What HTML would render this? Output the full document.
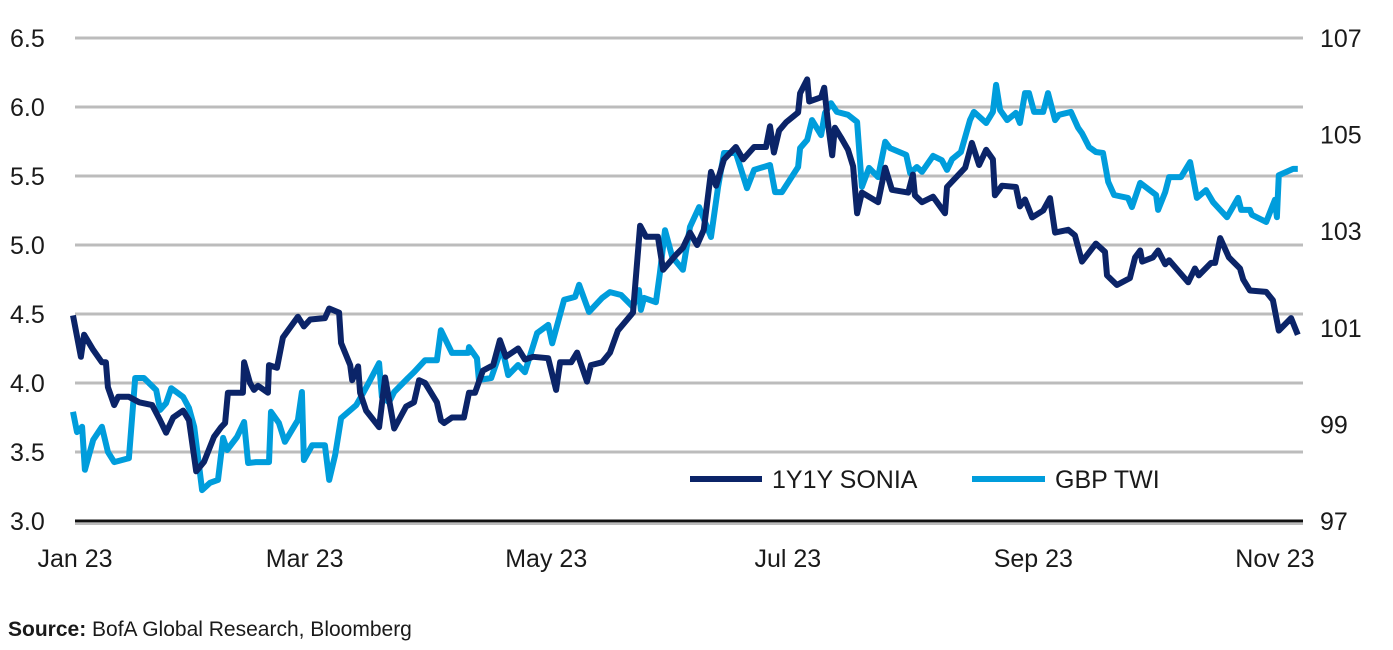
<!DOCTYPE html>
<html><head><meta charset="utf-8"><style>
body{margin:0;background:#fff;width:1393px;height:645px;overflow:hidden}
svg text{font-family:"Liberation Sans Narrow","Liberation Sans",sans-serif;fill:#1a1a1a}
</style></head><body>
<svg id="chart" width="1393" height="645" xmlns="http://www.w3.org/2000/svg">
<g id="grid"></g>
<g id="lticks"></g>
<g id="rticks"></g>
<g id="xticks"></g>
<g id="series"></g>
<g>
<line x1="690" y1="479" x2="762" y2="479" stroke="#0b2468" stroke-width="6"/>
<text x="772" y="488" font-size="25">1Y1Y SONIA</text>
<line x1="972" y1="479" x2="1045" y2="479" stroke="#009ddc" stroke-width="6"/>
<text x="1055" y="488" font-size="25">GBP TWI</text>
</g>
<text x="8" y="636" font-size="21"><tspan font-weight="bold">Source:</tspan>  BofA Global Research, Bloomberg</text>
</svg>
<script>
const leftTicks=[3.0,3.5,4.0,4.5,5.0,5.5,6.0,6.5];
const leftTickLabels=["3.0","3.5","4.0","4.5","5.0","5.5","6.0","6.5"];
const rightTicks=[97,99,101,103,105,107];
const xTickDays=[1,59,120,181,243,304];
const xTickLabels=["Jan 23","Mar 23","May 23","Jul 23","Sep 23","Nov 23"];
const soniaDays=[0.5,2.5,3.3,5.6,7.8,8.8,9.3,10.9,11.9,14.6,17.2,20.5,22.5,24,25.8,28.3,29.8,31.6,33.6,36.1,37.9,38.9,39.6,43.4,43.7,45.2,46.2,47.2,49.7,50,52,53.5,57.3,58.8,60.4,64.1,65.2,67.7,68.2,70.5,71,72.5,73,74.5,77.8,79.3,81.6,84.6,86.6,87.9,89.4,92.4,93.4,94.2,96.2,99.2,100.5,102,104,106.6,108.3,109.8,112.9,114.6,116.7,120.5,122.5,123.5,126.3,127.8,130.3,131.3,134.1,136.1,138.1,141.9,143.7,145.2,148.2,149.5,152.8,154.5,156.3,158.1,159.8,161.6,162.9,164.9,167.9,169.7,172.5,175.5,176.5,177.5,178.8,180.6,183.6,184.1,185.9,186.4,189.4,190.2,191.2,192.2,192.9,194.4,196.2,197.5,198.5,199.7,203.8,205.6,207.3,211.4,212.6,213.1,214.9,217.7,220.7,221.2,225.8,227.5,229.3,231.1,232.8,233.3,235.1,238.6,239.6,240.9,242.7,245.5,247.2,248.5,251.8,253.5,255.3,258.8,261.1,261.6,264.1,267.4,268.7,270,270.5,273.2,274.5,276.3,277.3,282.1,283.8,284.8,287.9,288.9,290.2,292.4,295.2,296,297.7,301.8,303.5,305,308.1,309.8];
const soniaValues=[4.49,4.19,4.35,4.24,4.15,4.15,3.97,3.84,3.90,3.90,3.86,3.84,3.73,3.64,3.75,3.80,3.73,3.36,3.43,3.61,3.68,3.71,3.93,3.93,4.15,4.00,3.95,3.98,3.93,4.13,4.11,4.33,4.48,4.41,4.46,4.47,4.54,4.51,4.29,4.13,4.02,4.12,3.93,3.80,3.68,4.04,3.67,3.83,3.86,4.02,4.00,3.86,3.73,3.71,3.75,3.75,3.93,3.93,4.09,4.13,4.31,4.19,4.25,4.17,4.19,4.18,3.95,4.15,4.15,4.22,4.01,4.13,4.15,4.22,4.38,4.51,5.14,5.06,5.06,4.82,4.93,4.98,5.09,5.00,5.11,5.53,5.43,5.62,5.71,5.62,5.71,5.71,5.86,5.67,5.83,5.89,5.96,6.10,6.20,6.04,6.07,6.14,5.87,5.65,5.85,5.78,5.69,5.57,5.23,5.38,5.31,5.56,5.40,5.38,5.51,5.36,5.31,5.35,5.23,5.42,5.56,5.74,5.58,5.69,5.62,5.36,5.43,5.42,5.28,5.33,5.20,5.25,5.34,5.09,5.11,5.07,4.88,5.01,4.95,4.78,4.71,4.76,4.91,4.96,4.88,4.91,4.96,4.86,4.89,4.73,4.83,4.78,4.87,4.87,5.05,4.91,4.83,4.75,4.67,4.66,4.60,4.38,4.47,4.35];
const twiDays=[0.5,1.5,2.8,3.5,5.6,7.8,9.3,10.9,14.6,16.2,18.4,21.5,22.5,24,25.3,28.3,29.8,31.1,33.1,35.1,37.1,38.4,39.4,41.9,43.7,44.7,46.7,50,50.5,52.5,54,57.3,58.3,58.8,60.9,64.1,65.2,66.7,68.2,72,73.5,75.3,77.8,78.5,80.3,81.6,85.1,86.6,89.4,92.4,93.4,96.2,100.3,100.5,102.5,103,106.1,108.8,110.4,112.9,114.6,117.7,120.5,121.5,124.5,127.3,128.3,130.8,134.1,136.1,138.9,141.9,143.4,143.9,144.7,147.7,148.7,150,151.8,154.5,156.3,158.6,161.6,163.4,164.9,167.9,170.7,172.5,176.5,177.8,179.5,183.6,184.1,185.9,187.1,189.4,190.4,191.9,193.4,196.2,198.5,199.7,201.5,203.8,205.6,206.8,210.9,211.9,213.6,214.9,217.7,219.9,221.2,222.5,224.7,227,228,231.1,232.8,233.6,234.6,236.4,238.6,239.6,240.9,241.9,243.2,245.5,246.7,248.5,249.5,252.5,254.3,255.3,257.1,258.8,260.6,261.9,263.4,266.9,267.9,270,274,274.5,276.3,277.3,280.3,282.6,284.3,286.6,288.4,290.2,291.9,294.7,295.5,297.7,298.2,301.8,304,304.5,305,308.6,309.8];
const twiValues=[99.26,98.84,98.95,98.06,98.68,98.95,98.43,98.22,98.30,99.96,99.96,99.71,99.30,99.44,99.75,99.57,99.34,98.95,97.64,97.79,97.85,98.72,98.47,98.74,99.05,98.20,98.22,98.22,99.26,99.03,98.64,99.09,99.67,98.26,98.57,98.57,97.85,98.37,99.13,99.40,99.61,99.88,100.27,99.57,99.46,99.67,99.96,100.08,100.33,100.33,100.95,100.48,100.48,100.60,100.37,99.92,99.96,100.60,100.02,100.23,100.08,100.89,101.06,100.68,101.58,101.64,101.89,101.33,101.62,101.74,101.68,101.43,101.78,101.37,101.62,101.53,102.13,103.02,102.47,102.20,103.09,103.50,102.88,103.92,104.62,104.62,103.89,104.27,104.37,103.81,103.81,104.33,104.72,104.89,105.30,104.99,105.45,105.65,105.47,105.41,105.26,103.92,104.31,104.12,104.85,104.72,104.58,104.20,104.33,104.23,104.56,104.47,104.27,104.49,104.64,105.30,105.47,105.24,105.47,106.03,105.51,105.30,105.45,105.24,105.86,105.86,105.47,105.47,105.86,105.30,105.41,105.47,105.14,105.03,104.74,104.64,104.62,104.02,103.75,103.69,103.50,104.00,103.75,103.44,103.81,104.12,104.12,104.43,103.69,103.85,103.60,103.44,103.29,103.69,103.44,103.44,103.34,103.19,103.65,103.29,104.16,104.29,104.29];

const X0=75,X1=1303,TOP=38,BOT=521;
const xS=d=>75+(d-1)*3.96;
const yL=v=>BOT-(v-3.0)/3.5*(BOT-TOP);
const yR=v=>BOT-(v-97)/10*(BOT-TOP);
const NS="http://www.w3.org/2000/svg";
function mk(tag,attrs,parent){const e=document.createElementNS(NS,tag);for(const k in attrs)e.setAttribute(k,attrs[k]);parent.appendChild(e);return e;}
const grid=document.getElementById('grid'),lt=document.getElementById('lticks'),rt=document.getElementById('rticks'),xt=document.getElementById('xticks'),ser=document.getElementById('series');
leftTicks.forEach((v,i)=>{
  if(i>0){const g=mk('line',{x1:X0,x2:X1,y1:yL(v),y2:yL(v),stroke:'#bcbcbc','stroke-width':3},grid);
  
  }
  const t=mk('text',{x:10,y:yL(v)+9,'font-size':25},lt);t.textContent=leftTickLabels[i];
  
  
});
const ax=mk('line',{x1:X0,x2:X1,y1:BOT,y2:BOT,stroke:'#111','stroke-width':3},grid);


const ax2=mk('line',{x1:X0,x2:X1,y1:BOT+3,y2:BOT+3,stroke:'#bcbcbc','stroke-width':2},grid);


rightTicks.forEach(v=>{
  const t=mk('text',{x:1320,y:yR(v)+9,'font-size':25},rt);t.textContent=String(v);
  
  
});
xTickDays.forEach((d,i)=>{
  const t=mk('text',{x:xS(d),y:567,'font-size':25,'text-anchor':'middle'},xt);t.textContent=xTickLabels[i];
  
  
});
function path(days,vals,ys){return days.map((d,i)=>(i?'L':'M')+xS(d).toFixed(1)+','+ys(vals[i]).toFixed(1)).join('');}
const p2=mk('path',{d:path(twiDays,twiValues,yR),fill:'none',stroke:'#009ddc','stroke-width':6,'stroke-linejoin':'round'},ser);


const p1=mk('path',{d:path(soniaDays,soniaValues,yL),fill:'none',stroke:'#0b2468','stroke-width':6,'stroke-linejoin':'round'},ser);


</script>
</body></html>
